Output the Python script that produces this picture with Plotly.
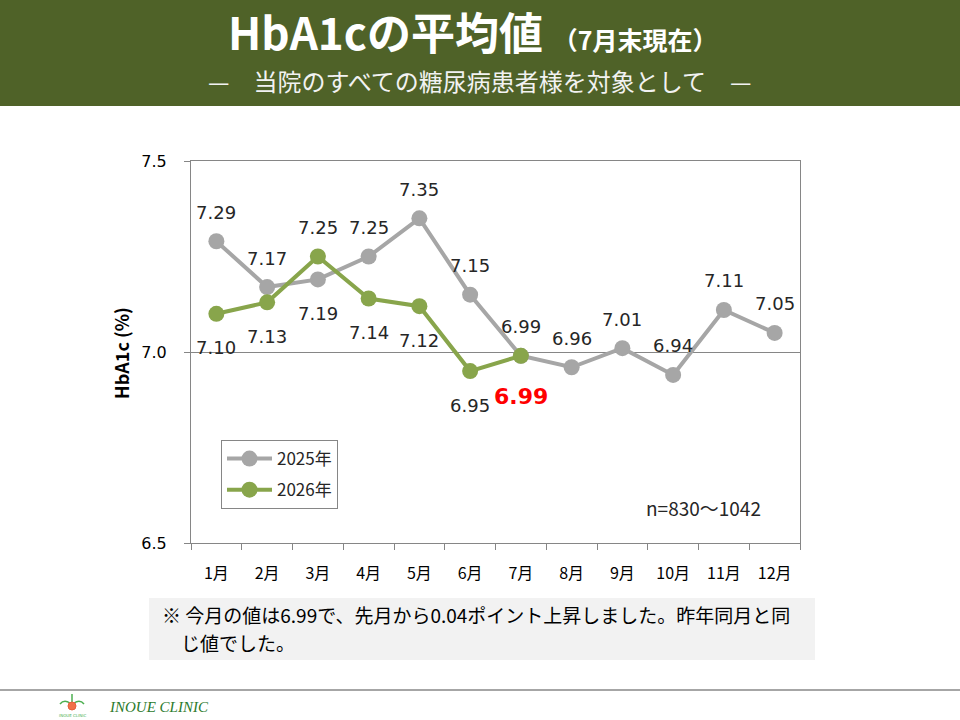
# -*- coding: utf-8 -*-
# HbA1c monthly average, 2025 vs 2026 (as of end of July)

import plotly.graph_objs as go

months = ['1月', '2月', '3月', '4月', '5月', '6月', '7月', '8月', '9月', '10月', '11月', '12月']
hba1c_2025 = [7.29, 7.17, 7.19, 7.25, 7.35, 7.15, 6.99, 6.96, 7.01, 6.94, 7.11, 7.05]
hba1c_2026 = [7.10, 7.13, 7.25, 7.14, 7.12, 6.95, 6.99]
# where the value label sits relative to the point
label_pos_2025 = ['up', 'up', 'down', 'up', 'up', 'up', 'up', 'up', 'up', 'up', 'up', 'up']
label_pos_2026 = ['down', 'down', 'up', 'down', 'down', 'down', 'latest']
y_ticks = [6.5, 7.0, 7.5]

width = 960
height = 720
jp_font = 'Noto Sans CJK JP'
num_font = 'DejaVu Sans'
gray = '#A6A6A6'
green = '#88A54B'
axis_gray = '#868686'


def px(x, y):
    """pixel position (from top-left) -> paper coords"""
    return x / width, 1 - y / height


def text_at(x, y, text, font, **kw):
    xp, yp = px(x, y)
    d = dict(x=xp, y=yp, xref='paper', yref='paper', showarrow=False,
             xanchor='center', yanchor='middle', text=text, font=font)
    d.update(kw)
    return d


fig = go.Figure()
fig.add_trace(go.Scatter(x=months, y=hba1c_2025, name='2025年', mode='lines+markers',
                         legendgroup='y2025',
                         line=dict(color=gray, width=4),
                         marker=dict(color=gray, size=16)))
fig.add_trace(go.Scatter(x=months[:len(hba1c_2026)], y=hba1c_2026, name='2026年', mode='lines+markers',
                         legendgroup='y2026',
                         line=dict(color=green, width=4),
                         marker=dict(color=green, size=16)))

annotations = []
for series, positions in ((hba1c_2025, label_pos_2025), (hba1c_2026, label_pos_2026)):
    for m, v, p in zip(months, series, positions):
        if p == 'latest':
            annotations.append(dict(x=m, y=v, xref='x', yref='y', text='<b>%.2f</b>' % v,
                                    showarrow=False, yshift=-41,
                                    font=dict(family=num_font, size=22, color='#FF0000')))
        else:
            annotations.append(dict(x=m, y=v, xref='x', yref='y', text='%.2f' % v,
                                    showarrow=False, yshift=29 if p == 'up' else -34,
                                    font=dict(family=num_font, size=18, color='#262626')))

# header
annotations.append(text_at(473, 31, '<b>HbA1cの平均値</b> <b><span style="font-size:25px">（7月末現在）</span></b>',
                           dict(family=jp_font, size=44, color='#FFFFFF')))
annotations.append(text_at(480, 80, '—　当院のすべての糖尿病患者様を対象として　—',
                           dict(family=jp_font, size=24, color='#F2F2F2')))
# y axis title, n note
annotations.append(text_at(121, 353, '<b>HbA1c (%)</b>', dict(family=jp_font, size=18, color='#000000'),
                           textangle=-90))
annotations.append(text_at(703, 507, 'n=830～1042', dict(family=jp_font, size=19, color='#262626')))
# comment box text (two lines)
note_font = dict(family=jp_font, size=19, color='#000000')
annotations.append(text_at(160, 614, '※ 今月の値は6.99で、先月から0.04ポイント上昇しました。昨年同月と同',
                           note_font, xanchor='left'))
annotations.append(text_at(160, 642, '　じ値でした。', note_font, xanchor='left'))
# footer
annotations.append(text_at(107, 707, '<i>INOUE CLINIC</i>', dict(family='Liberation Serif', size=15, color='#2B7A2B'),
                           xanchor='left'))
annotations.append(text_at(72, 715, 'INOUE CLINIC', dict(family=num_font, size=4, color='#4CAF50')))

shapes = [
    dict(type='rect', xref='paper', yref='paper', x0=0, x1=1, y0=px(0, 106)[1], y1=1,
         fillcolor='#4F6228', line=dict(width=0), layer='below'),
    dict(type='rect', xref='paper', yref='paper', x0=px(149, 0)[0], x1=px(815, 0)[0],
         y0=px(0, 660)[1], y1=px(0, 598)[1],
         fillcolor='#F2F2F2', line=dict(width=0), layer='below'),
    dict(type='line', xref='paper', yref='paper', x0=0, x1=1, y0=px(0, 690)[1], y1=px(0, 690)[1],
         line=dict(color='#A6A6A6', width=2)),
    # little logo: stem, leaves, flower
    dict(type='line', xref='paper', yref='paper', x0=px(72, 0)[0], x1=px(72, 0)[0],
         y0=px(0, 710)[1], y1=px(0, 694)[1], line=dict(color='#4CAF50', width=1.5)),
    dict(type='path', xref='paper', yref='paper',
         path='M %f %f Q %f %f %f %f' % (px(60, 704) + px(64, 699) + px(70, 703)),
         line=dict(color='#4CAF50', width=1.5)),
    dict(type='path', xref='paper', yref='paper',
         path='M %f %f Q %f %f %f %f' % (px(84, 704) + px(80, 699) + px(74, 703)),
         line=dict(color='#4CAF50', width=1.5)),
    dict(type='circle', xref='paper', yref='paper', x0=px(68, 0)[0], x1=px(76, 0)[0],
         y0=px(0, 710)[1], y1=px(0, 702)[1], fillcolor='#F07048', line=dict(color='#E8603C', width=1)),
]

fig.update_layout(
    autosize=False,
    width=width,
    height=height,
    margin=dict(l=0, r=0, t=0, b=0),
    paper_bgcolor='#FFFFFF',
    plot_bgcolor='#FFFFFF',
    showlegend=True,
    legend=dict(x=px(221, 0)[0], y=px(0, 440)[1], xanchor='left', yanchor='top',
                bordercolor=axis_gray, borderwidth=1, bgcolor='#FFFFFF', itemwidth=45,
                tracegroupgap=6,
                font=dict(family=jp_font, size=17, color='#262626')),
    annotations=annotations,
    shapes=shapes,
    xaxis=dict(domain=[191 / width, 800 / width], type='category', categoryorder='array',
               categoryarray=months, range=[-0.5, 11.5],
               showline=True, mirror=True, linecolor=axis_gray, linewidth=1,
               showgrid=False, ticks='outside', tickson='boundaries', ticklen=6, tickcolor=axis_gray,
               ticklabelstandoff=16, automargin=False,
               tickfont=dict(family=jp_font, size=16, color='#000000')),
    yaxis=dict(domain=[px(0, 543)[1], px(0, 161)[1]], range=[6.5, 7.5],
               tickvals=y_ticks, tickformat='.1f',
               showline=True, mirror=True, linecolor=axis_gray, linewidth=1,
               showgrid=True, gridcolor=axis_gray, gridwidth=1, zeroline=False,
               ticks='outside', ticklen=6, tickcolor=axis_gray, ticklabelstandoff=14, automargin=False,
               tickfont=dict(family=num_font, size=16, color='#000000')),
)

fig.write_html("out.html", config={'displayModeBar': False},
               post_script="document.body.style.margin='0';")
